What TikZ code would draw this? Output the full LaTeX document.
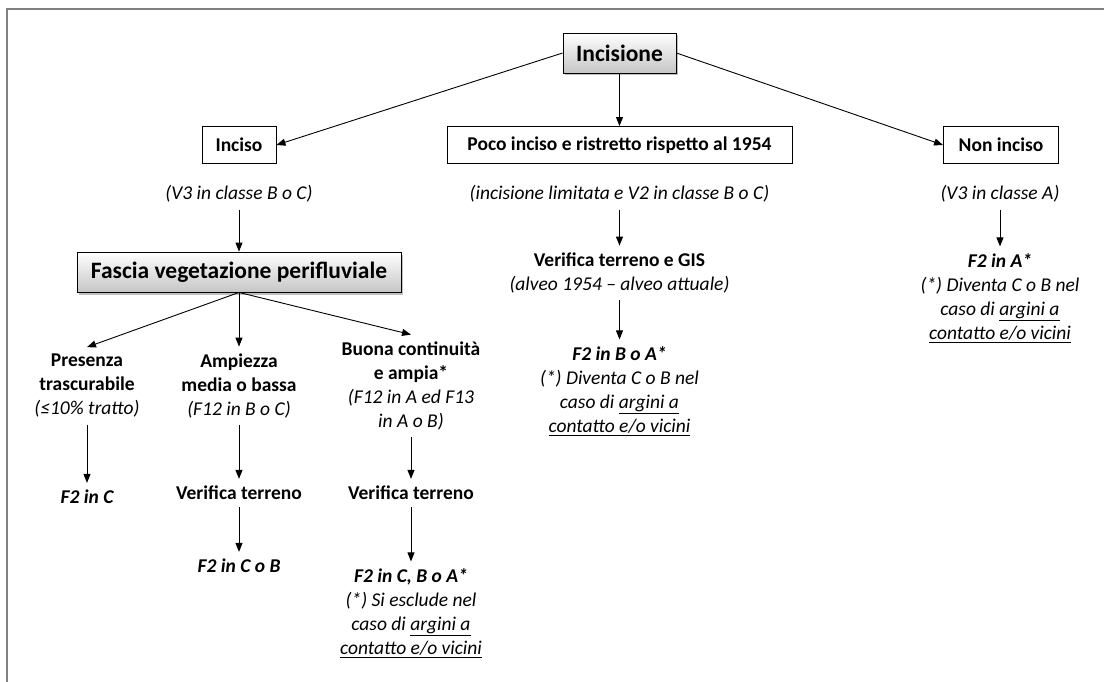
\documentclass[tikz,border=0pt]{standalone}
\usepackage{fontspec}
\setmainfont{Carlito}
\usetikzlibrary{arrows.meta,shadows}
\tikzset{
  box/.style={draw,line width=0.9pt,inner sep=0pt,minimum height=37pt,font=\fontsize{19.5}{24}\selectfont\bfseries},
  topbox/.style={box,top color=white,bottom color=gray!45,drop shadow={shadow xshift=2pt,shadow yshift=-2.5pt,opacity=0.5},minimum height=40pt,font=\fontsize{23.5}{28}\selectfont\bfseries},
  txt/.style={align=center,inner sep=7pt,font=\fontsize{19.5}{24}\selectfont},
  arr/.style={-{Triangle[length=9pt,width=7pt]},line width=0.9pt}
}
\begin{document}
\begin{tikzpicture}[x=1pt,y=-1pt]
\useasboundingbox (0,0) rectangle (1104,682);
\draw[gray,line width=2pt] (1104,9) -- (7,9) -- (7,682);
% top level
\node[topbox,minimum width=113pt] (inc) at (619.5,53) {Incisione};
\node[box,minimum width=74pt] (inciso) at (239,145) {Inciso};
\node[box,minimum width=345pt] (poco) at (619.5,145) {Poco inciso e ristretto rispetto al 1954};
\node[box,minimum width=115pt] (non) at (1001,145) {Non inciso};
\draw[arr] (inc.west) -- (inciso.east);
\draw[arr] (inc) -- (poco);
\draw[arr] (inc.east) -- (non.west);
% left branch
\node[txt] (v3bc) at (239,194) {\itshape (V3 in classe B o C)};
\node[topbox,minimum width=324pt] (fascia) at (239,272) {Fascia vegetazione perifluviale};
\node[txt] (pres) at (87,386) {\textbf{Presenza}\\\textbf{trascurabile}\\\textit{(≤10\% tratto)}};
\node[txt] (amp) at (239,386) {\textbf{Ampiezza}\\\textbf{media o bassa}\\\textit{(F12 in B o C)}};
\node[txt] (buona) at (411,386) {\textbf{Buona continuità}\\\textbf{e ampia*}\\\textit{(F12 in A ed F13}\\\textit{in A o B)}};
\node[txt,font=\fontsize{19.5}{24}\selectfont\bfseries\itshape] (f2c) at (87,497) {F2 in C};
\node[txt,font=\fontsize{19.5}{24}\selectfont\bfseries] (vt1) at (239,493) {Verifica terreno};
\node[txt,font=\fontsize{19.5}{24}\selectfont\bfseries\itshape] (f2cb) at (239,566) {F2 in C o B};
\node[txt,font=\fontsize{19.5}{24}\selectfont\bfseries] (vt2) at (411,493) {Verifica terreno};
\node[txt,font=\fontsize{19.5}{24}\selectfont\itshape] (f2cba) at (411,613) {\textbf{F2 in C, B o A*}\\(*) Si esclude nel\\caso di \underline{argini a}\\\underline{contatto e/o vicini}};
\draw[arr] (v3bc) -- (fascia);
\foreach \n in {pres,amp,buona} \draw[arr] (fascia.south) -- (\n.north);
\draw[arr] (pres) -- (f2c);
\draw[arr] (amp) -- (vt1);
\draw[arr] (vt1) -- (f2cb);
\draw[arr] (buona) -- (vt2);
\draw[arr] (vt2) -- (f2cba);
% middle branch
\node[txt] (lim) at (619.5,194) {\itshape (incisione limitata e V2 in classe B o C)};
\node[txt] (gis) at (619.5,273) {\textbf{Verifica terreno e GIS}\\\textit{(alveo 1954 -- alveo attuale)}};
\node[txt,font=\fontsize{19.5}{24}\selectfont\itshape] (f2ba) at (619.5,391) {\textbf{F2 in B o A*}\\(*) Diventa C o B nel\\caso di \underline{argini a}\\\underline{contatto e/o vicini}};
\draw[arr] (lim) -- (gis);
\draw[arr] (gis) -- (f2ba);
% right branch
\node[txt] (v3a) at (1000,194) {\itshape (V3 in classe A)};
\node[txt,font=\fontsize{19.5}{24}\selectfont\itshape] (f2a) at (1000,298) {\textbf{F2 in A*}\\(*) Diventa C o B nel\\caso di \underline{argini a}\\\underline{contatto e/o vicini}};
\draw[arr] (v3a) -- (f2a);
\end{tikzpicture}
\end{document}
